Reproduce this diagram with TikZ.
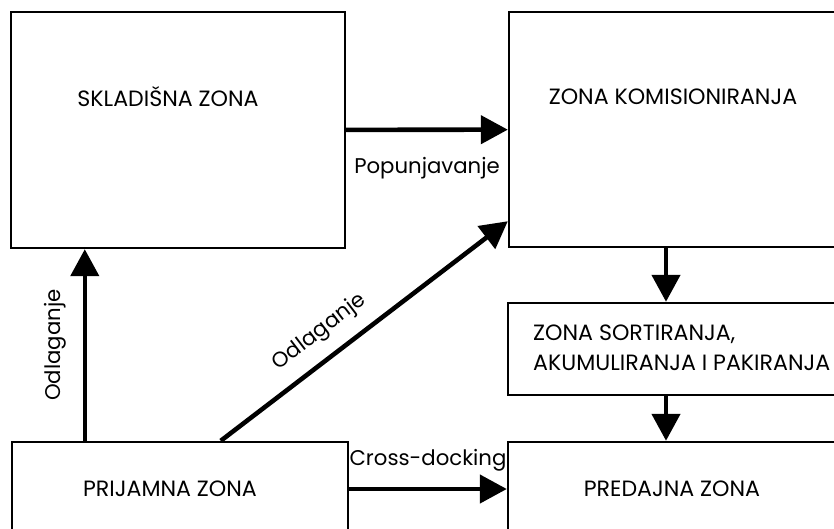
\documentclass[tikz,border=0pt]{standalone}
\usepackage{fontspec}
\setmainfont{Poppins}
\usetikzlibrary{
  arrows.meta,
  positioning,
}
\tikzstyle{zone} = [
  draw,
  line width=1.4pt,
  inner sep=0pt,
  font=\fontsize{12.6}{17}\selectfont,
]
\tikzstyle{flow} = [
  -{Triangle[length=0.54cm, width=0.56cm]},
  line width=2.6pt,
  font=\fontsize{12.1}{14}\selectfont,
]

\begin{document}
\begin{tikzpicture}[x=0.02cm, y=-0.02cm]
  \useasboundingbox (0,0) rectangle (834,528);
  \clip (0,0) rectangle (834,528);
  \node [zone, minimum width=6.68cm, minimum height=4.72cm] (skladisna) at (178,130) {};
  \node [zone, minimum width=6.64cm, minimum height=4.70cm] (komision) at (675,129.5) {};
  \node [zone, minimum width=6.66cm, minimum height=1.84cm] (sortiranje) at (674.5,349) {};
  \node [zone, minimum width=6.72cm, minimum height=1.88cm] (prijamna) at (180,489) {};
  \node [zone, minimum width=6.66cm, minimum height=1.88cm] (predajna) at (674.5,489) {};
  \node [zone, draw=none] (prijtext) at (170,489) {PRIJAMNA ZONA};
  \node [zone, draw=none] (predtext) at (672,489) {PREDAJNA ZONA};
  \node [zone, draw=none, anchor=west, align=left] (sorttext) at (532,348) {ZONA SORTIRANJA,\\AKUMULIRANJA I PAKIRANJA};
  \node [zone, draw=none] (skltext) at (168,97) {SKLADIŠNA ZONA};
  \node [zone, draw=none] (komtext) at (673,97) {ZONA KOMISIONIRANJA};
  \draw [flow] (skladisna) -- (komision) node [midway, below=0.38cm] {Popunjavanje};
  \draw [flow] ([xshift=1.48cm]prijamna.north west) -- ([xshift=1.48cm]prijamna.north west |- skladisna.south)
    node [midway, sloped, above=0.2cm] {Odlaganje};
  \draw [flow] ([xshift=4.2cm]prijamna.north west) -- ([yshift=0.54cm]komision.south west)
    node [pos=0.4, sloped, above=0.14cm] {Odlaganje};
  \draw [flow] (prijamna) -- (predajna) node [midway, above=0.2cm] {Cross-docking};
  \draw [flow] ([xshift=-0.18cm]komision.south) -- ([xshift=-0.18cm]komision.south |- sortiranje.north);
  \draw [flow] ([xshift=-0.17cm]sortiranje.south) -- ([xshift=-0.17cm]sortiranje.south |- predajna.north);
\end{tikzpicture}
\end{document}
